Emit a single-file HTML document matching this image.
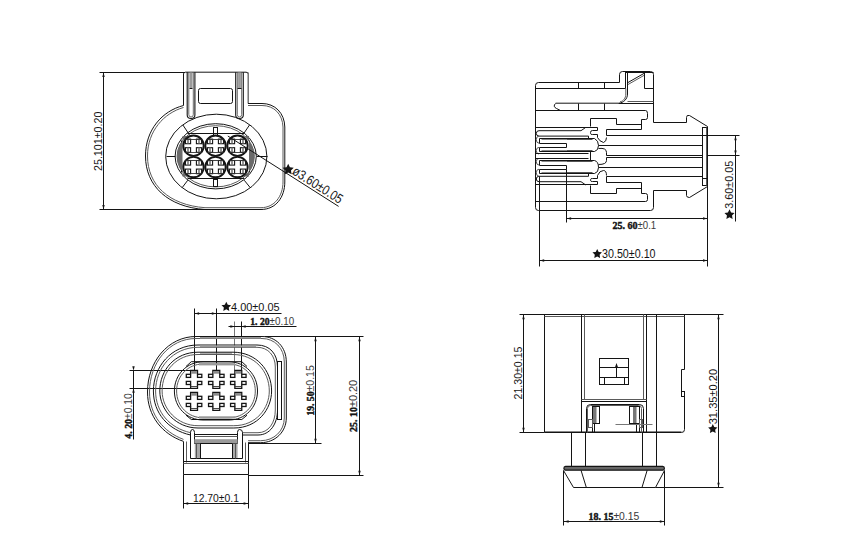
<!DOCTYPE html>
<html><head><meta charset="utf-8"><style>
html,body{margin:0;padding:0;background:#fff;width:850px;height:547px;overflow:hidden}
svg{display:block}
</style></head><body>
<svg width="850" height="547" viewBox="0 0 850 547">
<line x1="99.5" y1="72.5" x2="184.5" y2="72.5" stroke="#141414" stroke-width="1"/>
<line x1="99.5" y1="209.5" x2="205.5" y2="209.5" stroke="#141414" stroke-width="1"/>
<line x1="103.5" y1="72.5" x2="103.5" y2="209.5" stroke="#141414" stroke-width="1"/>
<path d="M103.5,72.5 L102.3,77.0 L104.7,77.0 Z" fill="#141414"/>
<path d="M103.5,209.5 L102.3,205.0 L104.7,205.0 Z" fill="#141414"/>
<g transform="translate(102,171) rotate(-90) scale(0.9465,1)"><text x="0" y="0" font-family="Liberation Sans" font-size="11.3" font-weight="normal" text-anchor="start" fill="#141414">25.101±0.20</text></g>
<path d="M183.5,105.5 V74 Q183.5,72.2 185.5,72.2 H246 Q248.2,72.2 248.2,74 V103.5" stroke="#141414" stroke-width="1" fill="none"/>
<path d="M187.2,72.2 V115 Q187.2,118.5 191.05,118.5 Q194.9,118.5 194.9,115 V72.2" stroke="#141414" stroke-width="1.1" fill="none"/>
<path d="M188.79999999999998,72.2 V114.5 Q188.79999999999998,117 191.05,117 Q193.3,117 193.3,114.5 V72.2" stroke="#5a5a5a" stroke-width="0.9" fill="none"/>
<rect x="189.6" y="72.5" width="2.9000000000000172" height="15.5" fill="#9a9a9a"/>
<line x1="189.5" y1="88.5" x2="192.5" y2="88.5" stroke="#141414" stroke-width="1"/>
<path d="M235.7,72.2 V115 Q235.7,118.5 239.5,118.5 Q243.3,118.5 243.3,115 V72.2" stroke="#141414" stroke-width="1.1" fill="none"/>
<path d="M237.29999999999998,72.2 V114.5 Q237.29999999999998,117 239.5,117 Q241.70000000000002,117 241.70000000000002,114.5 V72.2" stroke="#5a5a5a" stroke-width="0.9" fill="none"/>
<rect x="238.1" y="72.5" width="2.800000000000023" height="15.5" fill="#9a9a9a"/>
<line x1="237.5" y1="88.5" x2="241.5" y2="88.5" stroke="#141414" stroke-width="1"/>
<line x1="248.5" y1="72.5" x2="248.5" y2="103.5" stroke="#777" stroke-width="1"/>
<rect x="198.5" y="88.5" width="34.0" height="15.0" rx="2" stroke="#141414" stroke-width="1" fill="none"/>
<path d="M183.5,105.5 C162,111 145.5,130 145.5,156 C145.5,186 168,207 205,209.5 L261,209.5 C276,209.5 284.8,197 284.8,182 L284.8,127 C284.5,113 275,103.5 262,103.5 L248,103.5" stroke="#141414" stroke-width="1" fill="none"/>
<path d="M183.5,107.5 C164,113 147.5,131 147.5,156 C147.5,185 169,205 205,207.7 L261,207.7 C274.5,207.7 283,196 283,182 L283,127 C282.5,114 274,105.5 262,105.5 L248,105.5" stroke="#5a5a5a" stroke-width="1" fill="none"/>
<ellipse cx="216.3" cy="156.5" rx="50.6" ry="42.3" stroke="#141414" stroke-width="1" fill="none"/>
<ellipse cx="215.7" cy="156.3" rx="40.6" ry="32.6" stroke="#141414" stroke-width="1" fill="none"/>
<ellipse cx="215.7" cy="156.3" rx="38.6" ry="30.6" stroke="#5a5a5a" stroke-width="1" fill="none"/>
<line x1="182.9" y1="125" x2="189.3" y2="134.6" stroke="#141414" stroke-width="1"/>
<line x1="249.5" y1="125" x2="243" y2="134.6" stroke="#141414" stroke-width="1"/>
<line x1="182.2" y1="187.6" x2="187.8" y2="180.2" stroke="#141414" stroke-width="1"/>
<line x1="250.2" y1="187.6" x2="244.2" y2="180.2" stroke="#141414" stroke-width="1"/>
<line x1="166.5" y1="156.5" x2="175.5" y2="156.5" stroke="#141414" stroke-width="1"/>
<line x1="256.5" y1="156.5" x2="267.5" y2="156.5" stroke="#141414" stroke-width="1"/>
<line x1="187.5" y1="133.5" x2="244.5" y2="133.5" stroke="#141414" stroke-width="1"/>
<line x1="187.5" y1="178.5" x2="244.5" y2="178.5" stroke="#141414" stroke-width="1"/>
<line x1="181.5" y1="140.5" x2="181.5" y2="172.5" stroke="#141414" stroke-width="1"/>
<line x1="249.5" y1="140.5" x2="249.5" y2="172.5" stroke="#141414" stroke-width="1"/>
<rect x="213.5" y="127.5" width="4.0" height="8.0" rx="0" stroke="#141414" stroke-width="1" fill="none"/>
<rect x="213.5" y="179.5" width="4.0" height="7.0" rx="0" stroke="#141414" stroke-width="1" fill="none"/>
<path d="M182.5,136 L186.82,136.00 L184.74,138.03 L182.98,140.06 L181.51,142.09 L180.29,144.12 L179.29,146.15 L178.48,148.18 L177.87,150.21 L177.44,152.24 L177.19,154.27 L177.10,156.30 L177.19,158.33 L177.44,160.36 L177.87,162.39 L178.48,164.42 L179.29,166.45 L180.29,168.48 L181.51,170.51 L182.98,172.54 L184.74,174.57 L186.82,176.60 L182.5,176.6 Z" fill="#6a6a6a" stroke="none"/>
<path d="M249,136 L244.58,136.00 L246.66,138.03 L248.42,140.06 L249.89,142.09 L251.11,144.12 L252.11,146.15 L252.92,148.18 L253.53,150.21 L253.96,152.24 L254.21,154.27 L254.30,156.30 L254.21,158.33 L253.96,160.36 L253.53,162.39 L252.92,164.42 L252.11,166.45 L251.11,168.48 L249.89,170.51 L248.42,172.54 L246.66,174.57 L244.58,176.60 L249,176.6 Z" fill="#6a6a6a" stroke="none"/>
<circle cx="193.5" cy="145.7" r="10.2" stroke="#141414" stroke-width="1.9" fill="none"/>
<rect x="185.4" y="139.1" width="5.2" height="4.6" rx="0" stroke="#141414" stroke-width="1.1" fill="none"/>
<line x1="187.5" y1="139.5" x2="187.5" y2="143.5" stroke="#777" stroke-width="0.8"/>
<line x1="188.5" y1="139.5" x2="188.5" y2="143.5" stroke="#777" stroke-width="0.8"/>
<rect x="185.4" y="147.7" width="5.2" height="4.6" rx="0" stroke="#141414" stroke-width="1.1" fill="none"/>
<line x1="187.5" y1="147.5" x2="187.5" y2="152.5" stroke="#777" stroke-width="0.8"/>
<line x1="188.5" y1="147.5" x2="188.5" y2="152.5" stroke="#777" stroke-width="0.8"/>
<rect x="196.4" y="139.1" width="5.2" height="4.6" rx="0" stroke="#141414" stroke-width="1.1" fill="none"/>
<line x1="198.5" y1="139.5" x2="198.5" y2="143.5" stroke="#777" stroke-width="0.8"/>
<line x1="199.5" y1="139.5" x2="199.5" y2="143.5" stroke="#777" stroke-width="0.8"/>
<rect x="196.4" y="147.7" width="5.2" height="4.6" rx="0" stroke="#141414" stroke-width="1.1" fill="none"/>
<line x1="198.5" y1="147.5" x2="198.5" y2="152.5" stroke="#777" stroke-width="0.8"/>
<line x1="199.5" y1="147.5" x2="199.5" y2="152.5" stroke="#777" stroke-width="0.8"/>
<line x1="185.5" y1="139.5" x2="201.5" y2="139.5" stroke="#333" stroke-width="0.9"/>
<line x1="185.5" y1="152.5" x2="201.5" y2="152.5" stroke="#333" stroke-width="0.9"/>
<circle cx="215.5" cy="145.7" r="10.2" stroke="#141414" stroke-width="1.9" fill="none"/>
<rect x="207.4" y="139.1" width="5.2" height="4.6" rx="0" stroke="#141414" stroke-width="1.1" fill="none"/>
<line x1="209.5" y1="139.5" x2="209.5" y2="143.5" stroke="#777" stroke-width="0.8"/>
<line x1="210.5" y1="139.5" x2="210.5" y2="143.5" stroke="#777" stroke-width="0.8"/>
<rect x="207.4" y="147.7" width="5.2" height="4.6" rx="0" stroke="#141414" stroke-width="1.1" fill="none"/>
<line x1="209.5" y1="147.5" x2="209.5" y2="152.5" stroke="#777" stroke-width="0.8"/>
<line x1="210.5" y1="147.5" x2="210.5" y2="152.5" stroke="#777" stroke-width="0.8"/>
<rect x="218.4" y="139.1" width="5.2" height="4.6" rx="0" stroke="#141414" stroke-width="1.1" fill="none"/>
<line x1="220.5" y1="139.5" x2="220.5" y2="143.5" stroke="#777" stroke-width="0.8"/>
<line x1="221.5" y1="139.5" x2="221.5" y2="143.5" stroke="#777" stroke-width="0.8"/>
<rect x="218.4" y="147.7" width="5.2" height="4.6" rx="0" stroke="#141414" stroke-width="1.1" fill="none"/>
<line x1="220.5" y1="147.5" x2="220.5" y2="152.5" stroke="#777" stroke-width="0.8"/>
<line x1="221.5" y1="147.5" x2="221.5" y2="152.5" stroke="#777" stroke-width="0.8"/>
<line x1="207.5" y1="139.5" x2="223.5" y2="139.5" stroke="#333" stroke-width="0.9"/>
<line x1="207.5" y1="152.5" x2="223.5" y2="152.5" stroke="#333" stroke-width="0.9"/>
<circle cx="237.5" cy="145.7" r="10.2" stroke="#141414" stroke-width="1.9" fill="none"/>
<rect x="229.4" y="139.1" width="5.2" height="4.6" rx="0" stroke="#141414" stroke-width="1.1" fill="none"/>
<line x1="231.5" y1="139.5" x2="231.5" y2="143.5" stroke="#777" stroke-width="0.8"/>
<line x1="232.5" y1="139.5" x2="232.5" y2="143.5" stroke="#777" stroke-width="0.8"/>
<rect x="229.4" y="147.7" width="5.2" height="4.6" rx="0" stroke="#141414" stroke-width="1.1" fill="none"/>
<line x1="231.5" y1="147.5" x2="231.5" y2="152.5" stroke="#777" stroke-width="0.8"/>
<line x1="232.5" y1="147.5" x2="232.5" y2="152.5" stroke="#777" stroke-width="0.8"/>
<rect x="240.4" y="139.1" width="5.2" height="4.6" rx="0" stroke="#141414" stroke-width="1.1" fill="none"/>
<line x1="242.5" y1="139.5" x2="242.5" y2="143.5" stroke="#777" stroke-width="0.8"/>
<line x1="243.5" y1="139.5" x2="243.5" y2="143.5" stroke="#777" stroke-width="0.8"/>
<rect x="240.4" y="147.7" width="5.2" height="4.6" rx="0" stroke="#141414" stroke-width="1.1" fill="none"/>
<line x1="242.5" y1="147.5" x2="242.5" y2="152.5" stroke="#777" stroke-width="0.8"/>
<line x1="243.5" y1="147.5" x2="243.5" y2="152.5" stroke="#777" stroke-width="0.8"/>
<line x1="229.5" y1="139.5" x2="245.5" y2="139.5" stroke="#333" stroke-width="0.9"/>
<line x1="229.5" y1="152.5" x2="245.5" y2="152.5" stroke="#333" stroke-width="0.9"/>
<circle cx="193.5" cy="167.1" r="10.2" stroke="#141414" stroke-width="1.9" fill="none"/>
<rect x="185.4" y="160.5" width="5.2" height="4.6" rx="0" stroke="#141414" stroke-width="1.1" fill="none"/>
<line x1="187.5" y1="160.5" x2="187.5" y2="165.5" stroke="#777" stroke-width="0.8"/>
<line x1="188.5" y1="160.5" x2="188.5" y2="165.5" stroke="#777" stroke-width="0.8"/>
<rect x="185.4" y="169.1" width="5.2" height="4.6" rx="0" stroke="#141414" stroke-width="1.1" fill="none"/>
<line x1="187.5" y1="169.5" x2="187.5" y2="173.5" stroke="#777" stroke-width="0.8"/>
<line x1="188.5" y1="169.5" x2="188.5" y2="173.5" stroke="#777" stroke-width="0.8"/>
<rect x="196.4" y="160.5" width="5.2" height="4.6" rx="0" stroke="#141414" stroke-width="1.1" fill="none"/>
<line x1="198.5" y1="160.5" x2="198.5" y2="165.5" stroke="#777" stroke-width="0.8"/>
<line x1="199.5" y1="160.5" x2="199.5" y2="165.5" stroke="#777" stroke-width="0.8"/>
<rect x="196.4" y="169.1" width="5.2" height="4.6" rx="0" stroke="#141414" stroke-width="1.1" fill="none"/>
<line x1="198.5" y1="169.5" x2="198.5" y2="173.5" stroke="#777" stroke-width="0.8"/>
<line x1="199.5" y1="169.5" x2="199.5" y2="173.5" stroke="#777" stroke-width="0.8"/>
<line x1="185.5" y1="160.5" x2="201.5" y2="160.5" stroke="#333" stroke-width="0.9"/>
<line x1="185.5" y1="173.5" x2="201.5" y2="173.5" stroke="#333" stroke-width="0.9"/>
<circle cx="215.5" cy="167.1" r="10.2" stroke="#141414" stroke-width="1.9" fill="none"/>
<rect x="207.4" y="160.5" width="5.2" height="4.6" rx="0" stroke="#141414" stroke-width="1.1" fill="none"/>
<line x1="209.5" y1="160.5" x2="209.5" y2="165.5" stroke="#777" stroke-width="0.8"/>
<line x1="210.5" y1="160.5" x2="210.5" y2="165.5" stroke="#777" stroke-width="0.8"/>
<rect x="207.4" y="169.1" width="5.2" height="4.6" rx="0" stroke="#141414" stroke-width="1.1" fill="none"/>
<line x1="209.5" y1="169.5" x2="209.5" y2="173.5" stroke="#777" stroke-width="0.8"/>
<line x1="210.5" y1="169.5" x2="210.5" y2="173.5" stroke="#777" stroke-width="0.8"/>
<rect x="218.4" y="160.5" width="5.2" height="4.6" rx="0" stroke="#141414" stroke-width="1.1" fill="none"/>
<line x1="220.5" y1="160.5" x2="220.5" y2="165.5" stroke="#777" stroke-width="0.8"/>
<line x1="221.5" y1="160.5" x2="221.5" y2="165.5" stroke="#777" stroke-width="0.8"/>
<rect x="218.4" y="169.1" width="5.2" height="4.6" rx="0" stroke="#141414" stroke-width="1.1" fill="none"/>
<line x1="220.5" y1="169.5" x2="220.5" y2="173.5" stroke="#777" stroke-width="0.8"/>
<line x1="221.5" y1="169.5" x2="221.5" y2="173.5" stroke="#777" stroke-width="0.8"/>
<line x1="207.5" y1="160.5" x2="223.5" y2="160.5" stroke="#333" stroke-width="0.9"/>
<line x1="207.5" y1="173.5" x2="223.5" y2="173.5" stroke="#333" stroke-width="0.9"/>
<circle cx="237.5" cy="167.1" r="10.2" stroke="#141414" stroke-width="1.9" fill="none"/>
<rect x="229.4" y="160.5" width="5.2" height="4.6" rx="0" stroke="#141414" stroke-width="1.1" fill="none"/>
<line x1="231.5" y1="160.5" x2="231.5" y2="165.5" stroke="#777" stroke-width="0.8"/>
<line x1="232.5" y1="160.5" x2="232.5" y2="165.5" stroke="#777" stroke-width="0.8"/>
<rect x="229.4" y="169.1" width="5.2" height="4.6" rx="0" stroke="#141414" stroke-width="1.1" fill="none"/>
<line x1="231.5" y1="169.5" x2="231.5" y2="173.5" stroke="#777" stroke-width="0.8"/>
<line x1="232.5" y1="169.5" x2="232.5" y2="173.5" stroke="#777" stroke-width="0.8"/>
<rect x="240.4" y="160.5" width="5.2" height="4.6" rx="0" stroke="#141414" stroke-width="1.1" fill="none"/>
<line x1="242.5" y1="160.5" x2="242.5" y2="165.5" stroke="#777" stroke-width="0.8"/>
<line x1="243.5" y1="160.5" x2="243.5" y2="165.5" stroke="#777" stroke-width="0.8"/>
<rect x="240.4" y="169.1" width="5.2" height="4.6" rx="0" stroke="#141414" stroke-width="1.1" fill="none"/>
<line x1="242.5" y1="169.5" x2="242.5" y2="173.5" stroke="#777" stroke-width="0.8"/>
<line x1="243.5" y1="169.5" x2="243.5" y2="173.5" stroke="#777" stroke-width="0.8"/>
<line x1="229.5" y1="160.5" x2="245.5" y2="160.5" stroke="#333" stroke-width="0.9"/>
<line x1="229.5" y1="173.5" x2="245.5" y2="173.5" stroke="#333" stroke-width="0.9"/>
<line x1="227.8" y1="136" x2="338.6" y2="206.4" stroke="#141414" stroke-width="1"/>
<polygon points="288.20,163.80 289.90,167.25 293.72,167.81 290.96,170.50 291.61,174.29 288.20,172.50 284.79,174.29 285.44,170.50 282.68,167.81 286.50,167.25" fill="#141414"/>
<g transform="translate(291.2,173.6) rotate(32.4) scale(0.8357,1)"><text x="0" y="0" font-family="Liberation Sans" font-size="13.5" font-weight="normal" text-anchor="start" fill="#141414">ø3.60±0.05</text></g>
<path d="M535.5,85.5 Q535.5,82.5 538.5,82.5 H619.5 V74.5 Q619.5,71.5 622.5,71.5 H650.5 Q653.5,71.5 653.5,74.5 V122.5 H686.5 V117.5 Q686.5,114.5 689.5,115.5 L707.5,126.5 V127.5" stroke="#141414" stroke-width="1" fill="none"/>
<path d="M535.5,85.5 V207.5 Q535.5,210.5 538.5,210.5 H650.5 Q653.5,210.5 653.5,207.5 V190.5 H686.5 V195.5 Q686.5,197.5 689.5,197.5 L707.5,186.5 V185.5" stroke="#141414" stroke-width="1" fill="none"/>
<rect x="702.5" y="127.5" width="5.0" height="58.0" rx="0" stroke="#141414" stroke-width="1" fill="none"/>
<line x1="706.5" y1="127.5" x2="706.5" y2="185.5" stroke="#5a5a5a" stroke-width="1"/>
<line x1="702.5" y1="135.5" x2="707.5" y2="135.5" stroke="#141414" stroke-width="1"/>
<line x1="702.5" y1="178.5" x2="707.5" y2="178.5" stroke="#141414" stroke-width="1"/>
<line x1="535.5" y1="88.5" x2="625.5" y2="88.5" stroke="#141414" stroke-width="1"/>
<line x1="578.5" y1="82.5" x2="578.5" y2="88.5" stroke="#141414" stroke-width="1"/>
<line x1="604.5" y1="82.5" x2="604.5" y2="88.5" stroke="#141414" stroke-width="1"/>
<path d="M555.6,103.2 H618.5 C623.5,103 627.5,99 627.5,94 V73" stroke="#141414" stroke-width="1" fill="none"/>
<path d="M620,101.8 C623.5,101.3 625.8,98 625.8,94 V88.5" stroke="#5a5a5a" stroke-width="1" fill="none"/>
<path d="M555.5,103.5 Q552.5,106.5 556.5,108.5 L560.5,110.5" stroke="#141414" stroke-width="1" fill="none"/>
<line x1="578.5" y1="103.5" x2="578.5" y2="110.5" stroke="#141414" stroke-width="1"/>
<line x1="604.5" y1="103.5" x2="604.5" y2="110.5" stroke="#141414" stroke-width="1"/>
<line x1="625.5" y1="71.5" x2="625.5" y2="88.5" stroke="#141414" stroke-width="1"/>
<line x1="625.5" y1="72.5" x2="653.5" y2="72.5" stroke="#141414" stroke-width="1"/>
<path d="M628,82.5 L644,73.4" stroke="#141414" stroke-width="1" fill="none"/>
<path d="M628,84.5 L644,75.4" stroke="#5a5a5a" stroke-width="1" fill="none"/>
<path d="M644.5,72.5 V88.5 H653.5" stroke="#141414" stroke-width="1" fill="none"/>
<line x1="627.5" y1="101.5" x2="653.5" y2="101.5" stroke="#5a5a5a" stroke-width="1"/>
<line x1="618.5" y1="103.5" x2="653.5" y2="103.5" stroke="#141414" stroke-width="1"/>
<path d="M535.5,110.5 H645.5 Q647.5,110.5 647.5,113.5 V117.5 Q647.5,119.5 645.5,119.5 H641.5 V129.5 H606.5 V135.5" stroke="#141414" stroke-width="1" fill="none"/>
<path d="M590.5,126.5 V118.5 H616.5 V124.5 H641.5" stroke="#141414" stroke-width="1" fill="none"/>
<path d="M535.5,127.5 H597.5 V130.5 H592.5 Q590.5,130.5 590.5,132.5 V133.5 Q590.5,134.5 592.5,134.5 H597.5 V137.5 Q599.5,141.5 603.5,142.5 Q606.5,141.5 606.5,137.5" stroke="#141414" stroke-width="1" fill="none"/>
<path d="M585.6,127.5 L581,130.7 H539 Q536.3,130.7 536.3,133.4 Q536.3,136.1 539,136.1 H588.5 V138.8" stroke="#141414" stroke-width="1" fill="none"/>
<path d="M566.5,143.5 H539.5 V138.5 H594.5 Q598.5,140.5 598.5,145.5 Q598.5,150.5 594.5,151.5 H539.5 V147.5 H566.5 Z" stroke="#141414" stroke-width="1" fill="none"/>
<path d="M539,136.1 Q536.3,136.1 536.3,139.6 Q536.3,143.2 539,143.2" stroke="#5a5a5a" stroke-width="1" fill="none"/>
<path d="M539,147.4 Q536.3,147.4 536.3,150.7 Q536.3,154 539,154" stroke="#5a5a5a" stroke-width="1" fill="none"/>
<line x1="535.5" y1="153.5" x2="588.5" y2="153.5" stroke="#141414" stroke-width="1"/>
<line x1="541.5" y1="139.5" x2="566.5" y2="139.5" stroke="#888" stroke-width="1"/>
<line x1="541.5" y1="150.5" x2="566.5" y2="150.5" stroke="#888" stroke-width="1"/>
<line x1="566.5" y1="139.5" x2="592.5" y2="139.5" stroke="#555" stroke-width="1"/>
<line x1="566.5" y1="150.5" x2="592.5" y2="150.5" stroke="#555" stroke-width="1"/>
<line x1="598.5" y1="145.5" x2="702.5" y2="145.5" stroke="#141414" stroke-width="1"/>
<line x1="606.5" y1="135.5" x2="702.5" y2="135.5" stroke="#141414" stroke-width="1"/>
<path d="M598.5,148.5 Q606.5,147.5 606.5,152.5 V155.5 H702.5" stroke="#141414" stroke-width="1" fill="none"/>
<path d="M535.5,201.5 H645.5 Q647.5,201.5 647.5,199.5 V195.5 Q647.5,193.5 645.5,193.5 H641.5 V182.5 H606.5 V176.5" stroke="#141414" stroke-width="1" fill="none"/>
<path d="M590.5,185.5 V193.5 H616.5 V188.5 H641.5" stroke="#141414" stroke-width="1" fill="none"/>
<path d="M535.5,184.5 H597.5 V181.5 H592.5 Q590.5,181.5 590.5,180.5 V179.5 Q590.5,178.5 592.5,178.5 H597.5 V175.5 Q599.5,170.5 603.5,170.5 Q606.5,170.5 606.5,175.5" stroke="#141414" stroke-width="1" fill="none"/>
<path d="M585.6,184.9 L581,181.7 H539 Q536.3,181.7 536.3,179.0 Q536.3,176.3 539,176.3 H588.5 V173.6" stroke="#141414" stroke-width="1" fill="none"/>
<path d="M566.5,169.5 H539.5 V173.5 H594.5 Q598.5,172.5 598.5,167.5 Q598.5,161.5 594.5,160.5 H539.5 V165.5 H566.5 Z" stroke="#141414" stroke-width="1" fill="none"/>
<path d="M539,176.3 Q536.3,176.3 536.3,172.8 Q536.3,169.2 539,169.2" stroke="#5a5a5a" stroke-width="1" fill="none"/>
<path d="M539,165.0 Q536.3,165.0 536.3,161.7 Q536.3,158.4 539,158.4" stroke="#5a5a5a" stroke-width="1" fill="none"/>
<line x1="535.5" y1="158.5" x2="588.5" y2="158.5" stroke="#141414" stroke-width="1"/>
<line x1="541.5" y1="172.5" x2="566.5" y2="172.5" stroke="#888" stroke-width="1"/>
<line x1="541.5" y1="161.5" x2="566.5" y2="161.5" stroke="#888" stroke-width="1"/>
<line x1="566.5" y1="172.5" x2="592.5" y2="172.5" stroke="#555" stroke-width="1"/>
<line x1="566.5" y1="161.5" x2="592.5" y2="161.5" stroke="#555" stroke-width="1"/>
<line x1="598.5" y1="167.5" x2="702.5" y2="167.5" stroke="#141414" stroke-width="1"/>
<line x1="606.5" y1="176.5" x2="702.5" y2="176.5" stroke="#141414" stroke-width="1"/>
<path d="M598.5,164.5 Q606.5,164.5 606.5,160.5 V157.5 H702.5" stroke="#141414" stroke-width="1" fill="none"/>
<line x1="590.5" y1="151.5" x2="590.5" y2="160.5" stroke="#141414" stroke-width="1"/>
<line x1="707.5" y1="185.5" x2="707.5" y2="266.5" stroke="#141414" stroke-width="1"/>
<line x1="702.5" y1="135.5" x2="739.5" y2="135.5" stroke="#141414" stroke-width="1"/>
<line x1="707.5" y1="155.5" x2="739.5" y2="155.5" stroke="#141414" stroke-width="1"/>
<line x1="735.5" y1="135.5" x2="735.5" y2="221.5" stroke="#141414" stroke-width="1"/>
<path d="M735.5,135.8 L734.3,140.3 L736.7,140.3 Z" fill="#141414"/>
<path d="M735.5,155 L734.3,150.5 L736.7,150.5 Z" fill="#141414"/>
<g transform="translate(732.5,208.8) rotate(-90) scale(1.0293,1)"><text x="0" y="0" font-family="Liberation Sans" font-size="10.5" font-weight="normal" text-anchor="start" fill="#141414">3.60±0.05</text></g>
<polygon points="729.50,209.30 731.06,212.46 734.54,212.96 732.02,215.42 732.62,218.89 729.50,217.25 726.38,218.89 726.98,215.42 724.46,212.96 727.94,212.46" fill="#141414"/>
<line x1="539.5" y1="176.5" x2="539.5" y2="266.5" stroke="#141414" stroke-width="1"/>
<line x1="566.5" y1="169.5" x2="566.5" y2="222.5" stroke="#141414" stroke-width="1"/>
<line x1="566.5" y1="218.5" x2="707.5" y2="218.5" stroke="#141414" stroke-width="1"/>
<path d="M566.6,218.5 L571.1,217.3 L571.1,219.7 Z" fill="#141414"/>
<path d="M707.5,218.5 L703.0,217.3 L703.0,219.7 Z" fill="#141414"/>
<line x1="539.5" y1="260.5" x2="707.5" y2="260.5" stroke="#141414" stroke-width="1"/>
<path d="M539.7,260.5 L544.2,259.3 L544.2,261.7 Z" fill="#141414"/>
<path d="M707.5,260.5 L703.0,259.3 L703.0,261.7 Z" fill="#141414"/>
<g transform="translate(612.4,228.8) rotate(0) scale(0.9127,1)"><text x="0" y="0" font-family="Liberation Serif" font-size="11" font-weight="bold" text-anchor="start" fill="#141414" stroke="#141414" stroke-width="0.45">25. 60</text></g>
<g transform="translate(637.5,228.8) rotate(0) scale(0.9185,1)"><text x="0" y="0" font-family="Liberation Sans" font-size="10.5" font-weight="normal" text-anchor="start" fill="#3a3a3a">±0.1</text></g>
<polygon points="597.20,248.90 598.67,251.88 601.96,252.35 599.58,254.67 600.14,257.95 597.20,256.40 594.26,257.95 594.82,254.67 592.44,252.35 595.73,251.88" fill="#141414"/>
<g transform="translate(602,257.9) rotate(0) scale(0.8938,1)"><text x="0" y="0" font-family="Liberation Sans" font-size="12" font-weight="normal" text-anchor="start" fill="#141414">30.50±0.10</text></g>
<line x1="194.5" y1="308.5" x2="194.5" y2="370.5" stroke="#141414" stroke-width="1"/>
<line x1="216.5" y1="308.5" x2="216.5" y2="370.5" stroke="#141414" stroke-width="1"/>
<line x1="194.5" y1="313.5" x2="281.5" y2="313.5" stroke="#141414" stroke-width="1"/>
<path d="M194.6,313.5 L199.1,312.3 L199.1,314.7 Z" fill="#141414"/>
<path d="M216.3,313.5 L211.8,312.3 L211.8,314.7 Z" fill="#141414"/>
<polygon points="226.30,301.70 227.80,304.74 231.15,305.22 228.73,307.59 229.30,310.93 226.30,309.35 223.30,310.93 223.87,307.59 221.45,305.22 224.80,304.74" fill="#141414"/>
<g transform="translate(231,310.8) rotate(0) scale(1.0443,1)"><text x="0" y="0" font-family="Liberation Sans" font-size="10.5" font-weight="normal" text-anchor="start" fill="#141414">4.00±0.05</text></g>
<line x1="234.5" y1="321.5" x2="234.5" y2="370.5" stroke="#777" stroke-width="1"/>
<line x1="241.5" y1="321.5" x2="241.5" y2="370.5" stroke="#141414" stroke-width="1"/>
<line x1="228.5" y1="326.5" x2="296.5" y2="326.5" stroke="#141414" stroke-width="1"/>
<path d="M234.9,326.5 L230.4,325.3 L230.4,327.7 Z" fill="#141414"/>
<path d="M241.2,326.5 L245.7,325.3 L245.7,327.7 Z" fill="#141414"/>
<g transform="translate(250.3,324.6) rotate(0) scale(0.8773,1)"><text x="0" y="0" font-family="Liberation Serif" font-size="11" font-weight="bold" text-anchor="start" fill="#141414" stroke="#141414" stroke-width="0.45">1. 20</text></g>
<g transform="translate(269.6,324.6) rotate(0) scale(0.9390,1)"><text x="0" y="0" font-family="Liberation Sans" font-size="10.5" font-weight="normal" text-anchor="start" fill="#3a3a3a">±0.10</text></g>
<line x1="264.5" y1="336.5" x2="363.5" y2="336.5" stroke="#141414" stroke-width="1"/>
<line x1="248.5" y1="475.5" x2="363.5" y2="475.5" stroke="#141414" stroke-width="1"/>
<line x1="248.5" y1="443.5" x2="321.5" y2="443.5" stroke="#141414" stroke-width="1"/>
<line x1="315.5" y1="336.5" x2="315.5" y2="443.5" stroke="#141414" stroke-width="1"/>
<path d="M315.5,336.8 L314.3,341.3 L316.7,341.3 Z" fill="#141414"/>
<path d="M315.5,443.3 L314.3,438.8 L316.7,438.8 Z" fill="#141414"/>
<line x1="359.5" y1="336.5" x2="359.5" y2="475.5" stroke="#141414" stroke-width="1"/>
<path d="M359.5,336.8 L358.3,341.3 L360.7,341.3 Z" fill="#141414"/>
<path d="M359.5,475.2 L358.3,470.7 L360.7,470.7 Z" fill="#141414"/>
<g transform="translate(314.4,415.6) rotate(-90) scale(0.8764,1)"><text x="0" y="0" font-family="Liberation Serif" font-size="11" font-weight="bold" text-anchor="start" fill="#141414" stroke="#141414" stroke-width="0.45">19. 50</text></g>
<g transform="translate(314.4,391.5) rotate(-90) scale(1.0077,1)"><text x="0" y="0" font-family="Liberation Sans" font-size="10.5" font-weight="normal" text-anchor="start" fill="#3a3a3a">±0.15</text></g>
<g transform="translate(357.1,431.9) rotate(-90) scale(0.9055,1)"><text x="0" y="0" font-family="Liberation Serif" font-size="11" font-weight="bold" text-anchor="start" fill="#141414" stroke="#141414" stroke-width="0.45">25. 10</text></g>
<g transform="translate(357.1,407) rotate(-90) scale(1.0382,1)"><text x="0" y="0" font-family="Liberation Sans" font-size="10.5" font-weight="normal" text-anchor="start" fill="#3a3a3a">±0.20</text></g>
<line x1="129.5" y1="370.5" x2="190.5" y2="370.5" stroke="#141414" stroke-width="1"/>
<line x1="129.5" y1="388.5" x2="190.5" y2="388.5" stroke="#141414" stroke-width="1"/>
<line x1="133.5" y1="370.5" x2="133.5" y2="439.5" stroke="#141414" stroke-width="1"/>
<path d="M133.5,370.8 L132.3,366.3 L134.7,366.3 Z" fill="#141414"/>
<path d="M133.5,388.3 L132.3,392.8 L134.7,392.8 Z" fill="#141414"/>
<g transform="translate(131.8,438.7) rotate(-90) scale(0.8955,1)"><text x="0" y="0" font-family="Liberation Serif" font-size="11" font-weight="bold" text-anchor="start" fill="#141414" stroke="#141414" stroke-width="0.45">4. 20</text></g>
<g transform="translate(131.8,419) rotate(-90) scale(0.9848,1)"><text x="0" y="0" font-family="Liberation Sans" font-size="10.5" font-weight="normal" text-anchor="start" fill="#3a3a3a">±0.10</text></g>
<line x1="183.5" y1="474.5" x2="183.5" y2="508.5" stroke="#141414" stroke-width="1"/>
<line x1="248.5" y1="474.5" x2="248.5" y2="508.5" stroke="#141414" stroke-width="1"/>
<line x1="183.5" y1="503.5" x2="248.5" y2="503.5" stroke="#141414" stroke-width="1"/>
<path d="M183.7,503.5 L188.2,502.3 L188.2,504.7 Z" fill="#141414"/>
<path d="M248.1,503.5 L243.6,502.3 L243.6,504.7 Z" fill="#141414"/>
<g transform="translate(193,501.5) rotate(0) scale(0.9864,1)"><text x="0" y="0" font-family="Liberation Sans" font-size="10.5" font-weight="normal" text-anchor="start" fill="#141414">12.70±0.1</text></g>
<path d="M196,336.5 H262 C276,336.5 286.3,347 286.3,362 V418 C286.3,432 275,442.7 260.7,442.7 H248.1" stroke="#141414" stroke-width="1" fill="none"/>
<path d="M196,338.5 H262 C274.5,338.5 284.3,348 284.3,362 V418 C284.3,431 274,440.7 260.7,440.7 H248.1" stroke="#5a5a5a" stroke-width="1" fill="none"/>
<path d="M196,336.5 C168,336.5 147.5,362 147.5,392 C147.5,416 162,434 183.5,441.4" stroke="#141414" stroke-width="1" fill="none"/>
<path d="M196,338.5 C169,338.5 149.5,363 149.5,392 C149.5,415 163.5,432 183.5,439.4" stroke="#5a5a5a" stroke-width="1" fill="none"/>
<path d="M198,345 H257 C270,345 277.5,354 277.5,367 V410 C277.5,424 270,435 258,435 H242.4" stroke="#141414" stroke-width="1" fill="none"/>
<path d="M198,347.3 H257 C268.5,347.3 275.3,356 275.3,367 V410 C275.3,423 268.5,432.7 258,432.7 H242.4" stroke="#5a5a5a" stroke-width="1" fill="none"/>
<path d="M198,345 C171,345 153.4,367 153.4,391 C153.4,413 168,430 190.6,435" stroke="#141414" stroke-width="1" fill="none"/>
<path d="M198,347.3 C173,347.3 155.6,368 155.6,391 C155.6,412 169.5,428 190.6,432.7" stroke="#5a5a5a" stroke-width="1" fill="none"/>
<rect x="277.5" y="361.5" width="4.0" height="58.0" rx="0" stroke="#141414" stroke-width="1" fill="none"/>
<rect x="200" y="337" width="61" height="1.6" fill="#9a9a9a"/>
<rect x="200" y="345.4" width="56" height="1.6" fill="#9a9a9a"/>
<rect x="200" y="352.6" width="32" height="1.2" fill="#9a9a9a"/>
<path d="M198,352.2 H233 C256,352.2 271.6,370 271.6,391 C271.6,409 258,428 233.8,428 H198 C176,428 159.8,410 159.8,391 C159.8,370 175,352.2 198,352.2 Z" stroke="#141414" stroke-width="1" fill="none"/>
<path d="M198,354.5 H233 C254.5,354.5 269.3,371 269.3,391 C269.3,408 256.5,425.7 233.8,425.7 H198 C177.5,425.7 162.1,409 162.1,391 C162.1,371 176.5,354.5 198,354.5 Z" stroke="#5a5a5a" stroke-width="1" fill="none"/>
<path d="M203,361.8 H229 C245,361.8 257.5,374.5 257.5,391 C257.5,407.5 245,420 229,420 H203 C187,420 174.4,407.5 174.4,391 C174.4,374.5 187,361.8 203,361.8 Z" stroke="#141414" stroke-width="1" fill="none"/>
<path d="M203,364 H229 C243.8,364 255.3,375.7 255.3,391 C255.3,406.3 243.8,417.8 229,417.8 H203 C188.2,417.8 176.6,406.3 176.6,391 C176.6,375.7 188.2,364 203,364 Z" stroke="#5a5a5a" stroke-width="1" fill="none"/>
<path d="M186,366.5 L191.3,361.7 H241.8 L247,366.5" stroke="#141414" stroke-width="1" fill="none"/>
<rect x="199" y="363.2" width="36" height="2.2" fill="#999"/>
<path d="M186,415.2 L191.3,419.5 H241.8 L247,415.2" stroke="#141414" stroke-width="1" fill="none"/>
<rect x="199" y="416.3" width="36" height="2.2" fill="#999"/>
<path d="M190.60,374.30 V370.50 H197.50 V374.30" stroke="#141414" stroke-width="1.3" fill="none"/>
<path d="M190.60,384.50 V388.30 H197.50 V384.50" stroke="#141414" stroke-width="1.3" fill="none"/>
<rect x="186.3" y="374.29999999999995" width="4.3" height="3.0999999999999996" rx="0" stroke="#141414" stroke-width="1.3" fill="none"/>
<rect x="197.5" y="374.29999999999995" width="4.3" height="3.0999999999999996" rx="0" stroke="#141414" stroke-width="1.3" fill="none"/>
<rect x="186.3" y="381.4" width="4.3" height="3.0999999999999996" rx="0" stroke="#141414" stroke-width="1.3" fill="none"/>
<rect x="197.5" y="381.4" width="4.3" height="3.0999999999999996" rx="0" stroke="#141414" stroke-width="1.3" fill="none"/>
<rect x="191.20000000000002" y="371.1" width="5.7" height="2.6" fill="#8a8a8a"/>
<line x1="190.5" y1="386.5" x2="197.5" y2="386.5" stroke="#333" stroke-width="0.9"/>
<path d="M212.85,374.30 V370.50 H219.75 V374.30" stroke="#141414" stroke-width="1.3" fill="none"/>
<path d="M212.85,384.50 V388.30 H219.75 V384.50" stroke="#141414" stroke-width="1.3" fill="none"/>
<rect x="208.55" y="374.29999999999995" width="4.3" height="3.0999999999999996" rx="0" stroke="#141414" stroke-width="1.3" fill="none"/>
<rect x="219.75" y="374.29999999999995" width="4.3" height="3.0999999999999996" rx="0" stroke="#141414" stroke-width="1.3" fill="none"/>
<rect x="208.55" y="381.4" width="4.3" height="3.0999999999999996" rx="0" stroke="#141414" stroke-width="1.3" fill="none"/>
<rect x="219.75" y="381.4" width="4.3" height="3.0999999999999996" rx="0" stroke="#141414" stroke-width="1.3" fill="none"/>
<rect x="213.45000000000002" y="371.1" width="5.7" height="2.6" fill="#8a8a8a"/>
<line x1="212.5" y1="386.5" x2="219.5" y2="386.5" stroke="#333" stroke-width="0.9"/>
<path d="M234.85,374.30 V370.50 H241.75 V374.30" stroke="#141414" stroke-width="1.3" fill="none"/>
<path d="M234.85,384.50 V388.30 H241.75 V384.50" stroke="#141414" stroke-width="1.3" fill="none"/>
<rect x="230.55" y="374.29999999999995" width="4.3" height="3.0999999999999996" rx="0" stroke="#141414" stroke-width="1.3" fill="none"/>
<rect x="241.75" y="374.29999999999995" width="4.3" height="3.0999999999999996" rx="0" stroke="#141414" stroke-width="1.3" fill="none"/>
<rect x="230.55" y="381.4" width="4.3" height="3.0999999999999996" rx="0" stroke="#141414" stroke-width="1.3" fill="none"/>
<rect x="241.75" y="381.4" width="4.3" height="3.0999999999999996" rx="0" stroke="#141414" stroke-width="1.3" fill="none"/>
<rect x="235.45000000000002" y="371.1" width="5.7" height="2.6" fill="#8a8a8a"/>
<line x1="234.5" y1="386.5" x2="241.5" y2="386.5" stroke="#333" stroke-width="0.9"/>
<path d="M190.60,396.30 V392.50 H197.50 V396.30" stroke="#141414" stroke-width="1.3" fill="none"/>
<path d="M190.60,406.50 V410.30 H197.50 V406.50" stroke="#141414" stroke-width="1.3" fill="none"/>
<rect x="186.3" y="396.29999999999995" width="4.3" height="3.0999999999999996" rx="0" stroke="#141414" stroke-width="1.3" fill="none"/>
<rect x="197.5" y="396.29999999999995" width="4.3" height="3.0999999999999996" rx="0" stroke="#141414" stroke-width="1.3" fill="none"/>
<rect x="186.3" y="403.4" width="4.3" height="3.0999999999999996" rx="0" stroke="#141414" stroke-width="1.3" fill="none"/>
<rect x="197.5" y="403.4" width="4.3" height="3.0999999999999996" rx="0" stroke="#141414" stroke-width="1.3" fill="none"/>
<rect x="191.20000000000002" y="393.1" width="5.7" height="2.6" fill="#8a8a8a"/>
<line x1="190.5" y1="408.5" x2="197.5" y2="408.5" stroke="#333" stroke-width="0.9"/>
<path d="M212.85,396.30 V392.50 H219.75 V396.30" stroke="#141414" stroke-width="1.3" fill="none"/>
<path d="M212.85,406.50 V410.30 H219.75 V406.50" stroke="#141414" stroke-width="1.3" fill="none"/>
<rect x="208.55" y="396.29999999999995" width="4.3" height="3.0999999999999996" rx="0" stroke="#141414" stroke-width="1.3" fill="none"/>
<rect x="219.75" y="396.29999999999995" width="4.3" height="3.0999999999999996" rx="0" stroke="#141414" stroke-width="1.3" fill="none"/>
<rect x="208.55" y="403.4" width="4.3" height="3.0999999999999996" rx="0" stroke="#141414" stroke-width="1.3" fill="none"/>
<rect x="219.75" y="403.4" width="4.3" height="3.0999999999999996" rx="0" stroke="#141414" stroke-width="1.3" fill="none"/>
<rect x="213.45000000000002" y="393.1" width="5.7" height="2.6" fill="#8a8a8a"/>
<line x1="212.5" y1="408.5" x2="219.5" y2="408.5" stroke="#333" stroke-width="0.9"/>
<path d="M234.85,396.30 V392.50 H241.75 V396.30" stroke="#141414" stroke-width="1.3" fill="none"/>
<path d="M234.85,406.50 V410.30 H241.75 V406.50" stroke="#141414" stroke-width="1.3" fill="none"/>
<rect x="230.55" y="396.29999999999995" width="4.3" height="3.0999999999999996" rx="0" stroke="#141414" stroke-width="1.3" fill="none"/>
<rect x="241.75" y="396.29999999999995" width="4.3" height="3.0999999999999996" rx="0" stroke="#141414" stroke-width="1.3" fill="none"/>
<rect x="230.55" y="403.4" width="4.3" height="3.0999999999999996" rx="0" stroke="#141414" stroke-width="1.3" fill="none"/>
<rect x="241.75" y="403.4" width="4.3" height="3.0999999999999996" rx="0" stroke="#141414" stroke-width="1.3" fill="none"/>
<rect x="235.45000000000002" y="393.1" width="5.7" height="2.6" fill="#8a8a8a"/>
<line x1="234.5" y1="408.5" x2="241.5" y2="408.5" stroke="#333" stroke-width="0.9"/>
<path d="M183.5,441.5 V474.5 H248.5 V442.5" stroke="#141414" stroke-width="1" fill="none"/>
<line x1="186.5" y1="441.5" x2="186.5" y2="462.5" stroke="#5a5a5a" stroke-width="1"/>
<line x1="245.5" y1="442.5" x2="245.5" y2="462.5" stroke="#5a5a5a" stroke-width="1"/>
<line x1="183.5" y1="461.5" x2="248.5" y2="461.5" stroke="#141414" stroke-width="1"/>
<line x1="183.5" y1="463.5" x2="248.5" y2="463.5" stroke="#5a5a5a" stroke-width="1"/>
<path d="M190.5,458.5 V432.5 Q190.5,429.5 192.5,429.5 Q194.5,429.5 194.5,432.5 V443.5" stroke="#141414" stroke-width="1" fill="none"/>
<path d="M237.5,443.5 V432.5 Q237.5,429.5 239.5,429.5 Q242.5,429.5 242.5,432.5 V458.5 H190.5" stroke="#141414" stroke-width="1" fill="none"/>
<line x1="194.5" y1="434.5" x2="237.5" y2="434.5" stroke="#141414" stroke-width="1"/>
<line x1="194.5" y1="436.5" x2="237.5" y2="436.5" stroke="#5a5a5a" stroke-width="1"/>
<rect x="194.3" y="439.2" width="43.3" height="4.4" fill="#9a9a9a"/>
<line x1="194.5" y1="443.5" x2="237.5" y2="443.5" stroke="#141414" stroke-width="1"/>
<rect x="194.8" y="443.6" width="5.5" height="14.3" fill="#a8a8a8"/>
<rect x="232.1" y="443.6" width="5.5" height="14.3" fill="#a8a8a8"/>
<line x1="200.5" y1="443.5" x2="200.5" y2="458.5" stroke="#141414" stroke-width="1"/>
<line x1="232.5" y1="443.5" x2="232.5" y2="458.5" stroke="#141414" stroke-width="1"/>
<line x1="196.5" y1="443.5" x2="196.5" y2="458.5" stroke="#555" stroke-width="1"/>
<line x1="235.5" y1="443.5" x2="235.5" y2="458.5" stroke="#555" stroke-width="1"/>
<line x1="519.5" y1="314.5" x2="723.5" y2="314.5" stroke="#141414" stroke-width="1"/>
<line x1="523.5" y1="314.5" x2="523.5" y2="432.5" stroke="#141414" stroke-width="1"/>
<path d="M523.5,314.8 L522.3,319.3 L524.7,319.3 Z" fill="#141414"/>
<path d="M523.5,432.2 L522.3,427.7 L524.7,427.7 Z" fill="#141414"/>
<g transform="translate(522,399.4) rotate(-90) scale(1.0081,1)"><text x="0" y="0" font-family="Liberation Sans" font-size="10.5" font-weight="normal" text-anchor="start" fill="#141414">21.30±0.15</text></g>
<line x1="519.5" y1="432.5" x2="544.5" y2="432.5" stroke="#141414" stroke-width="1"/>
<line x1="544.5" y1="431.5" x2="681.5" y2="431.5" stroke="#888" stroke-width="1"/>
<path d="M544.5,314.5 V432.5 H681.5 Q684.5,432.5 684.5,429.5 V396.5 H681.5 V369.5 H684.5 V314.5" stroke="#141414" stroke-width="1" fill="none"/>
<rect x="681.5" y="391.5" width="3.0" height="5.0" rx="0" stroke="#141414" stroke-width="1" fill="none"/>
<line x1="544.5" y1="316.5" x2="684.5" y2="316.5" stroke="#5a5a5a" stroke-width="1"/>
<line x1="581.5" y1="314.5" x2="581.5" y2="432.5" stroke="#141414" stroke-width="1"/>
<line x1="584.5" y1="314.5" x2="584.5" y2="399.5" stroke="#5a5a5a" stroke-width="1"/>
<line x1="643.5" y1="314.5" x2="643.5" y2="399.5" stroke="#5a5a5a" stroke-width="1"/>
<line x1="646.5" y1="314.5" x2="646.5" y2="432.5" stroke="#141414" stroke-width="1"/>
<line x1="656.5" y1="314.5" x2="656.5" y2="432.5" stroke="#141414" stroke-width="1"/>
<line x1="581.5" y1="399.5" x2="646.5" y2="399.5" stroke="#5a5a5a" stroke-width="1"/>
<line x1="581.5" y1="401.5" x2="646.5" y2="401.5" stroke="#141414" stroke-width="1"/>
<path d="M586.5,432.5 V408.5 Q586.5,404.5 590.5,404.5 H639.5 Q643.5,404.5 643.5,408.5 V432.5" stroke="#141414" stroke-width="1" fill="none"/>
<path d="M587.5,432.5 V408.5 Q587.5,405.5 590.5,405.5 H638.5 Q641.5,405.5 641.5,408.5 V432.5" stroke="#5a5a5a" stroke-width="1" fill="none"/>
<rect x="593" y="406.5" width="3.5" height="17" fill="#777"/>
<rect x="633" y="406.5" width="3.5" height="17" fill="#777"/>
<rect x="592.5" y="406.5" width="7.0" height="17.0" rx="0" stroke="#141414" stroke-width="1" fill="none"/>
<rect x="629.5" y="406.5" width="10.0" height="17.0" rx="0" stroke="#141414" stroke-width="1" fill="none"/>
<rect x="592.5" y="423.5" width="2.0" height="9.0" rx="0" stroke="#141414" stroke-width="1" fill="none"/>
<rect x="636.5" y="423.5" width="3.0" height="9.0" rx="0" stroke="#141414" stroke-width="1" fill="none"/>
<rect x="588.5" y="419.5" width="4.0" height="8.0" rx="0" stroke="#5a5a5a" stroke-width="1" fill="none"/>
<rect x="639.5" y="419.5" width="3.0" height="8.0" rx="0" stroke="#5a5a5a" stroke-width="1" fill="none"/>
<line x1="615.5" y1="424.5" x2="652.5" y2="424.5" stroke="#777" stroke-width="1"/>
<rect x="599.5" y="358.5" width="29.0" height="26.0" rx="0" stroke="#141414" stroke-width="1" fill="none"/>
<line x1="599.5" y1="367.5" x2="628.5" y2="367.5" stroke="#141414" stroke-width="1"/>
<line x1="599.5" y1="377.5" x2="628.5" y2="377.5" stroke="#141414" stroke-width="1"/>
<rect x="604.5" y="377.5" width="20.0" height="7.0" rx="0" stroke="#141414" stroke-width="1" fill="none"/>
<line x1="616.5" y1="366.5" x2="616.5" y2="377.5" stroke="#141414" stroke-width="1"/>
<path d="M616.5,363 L615.1,367 L617.9,367 Z" fill="#141414"/>
<line x1="571.5" y1="432.5" x2="571.5" y2="466.5" stroke="#141414" stroke-width="1"/>
<line x1="585.5" y1="432.5" x2="585.5" y2="466.5" stroke="#141414" stroke-width="1"/>
<line x1="642.5" y1="432.5" x2="642.5" y2="466.5" stroke="#141414" stroke-width="1"/>
<line x1="656.5" y1="432.5" x2="656.5" y2="466.5" stroke="#141414" stroke-width="1"/>
<path d="M565.5,466.4 H662.8 Q664.4,466.4 664.4,468.3 Q664.4,470.2 662.8,470.2 H565.5 Q563.9,470.2 563.9,468.3 Q563.9,466.4 565.5,466.4 Z" stroke="#141414" stroke-width="1.2" fill="#666"/>
<path d="M563.5,470.5 L573.5,487.5 H655.5 L664.5,470.5" stroke="#141414" stroke-width="1" fill="none"/>
<line x1="581" y1="470.2" x2="586.3" y2="487.4" stroke="#141414" stroke-width="1"/>
<line x1="647.2" y1="470.2" x2="642" y2="487.4" stroke="#141414" stroke-width="1"/>
<line x1="655.5" y1="487.5" x2="723.5" y2="487.5" stroke="#141414" stroke-width="1"/>
<line x1="718.5" y1="314.5" x2="718.5" y2="487.5" stroke="#141414" stroke-width="1"/>
<path d="M718.5,314.8 L717.3,319.3 L719.7,319.3 Z" fill="#141414"/>
<path d="M718.5,487.2 L717.3,482.7 L719.7,482.7 Z" fill="#141414"/>
<g transform="translate(716.8,424.3) rotate(-90) scale(1.0096,1)"><text x="0" y="0" font-family="Liberation Sans" font-size="11" font-weight="normal" text-anchor="start" fill="#141414">31.35±0.20</text></g>
<polygon points="712.80,424.10 714.24,427.02 717.46,427.49 715.13,429.76 715.68,432.96 712.80,431.45 709.92,432.96 710.47,429.76 708.14,427.49 711.36,427.02" fill="#141414"/>
<line x1="563.5" y1="470.5" x2="563.5" y2="525.5" stroke="#141414" stroke-width="1"/>
<line x1="664.5" y1="470.5" x2="664.5" y2="525.5" stroke="#141414" stroke-width="1"/>
<line x1="563.5" y1="521.5" x2="664.5" y2="521.5" stroke="#141414" stroke-width="1"/>
<path d="M564.1,521.5 L568.6,520.3 L568.6,522.7 Z" fill="#141414"/>
<path d="M664.4,521.5 L659.9,520.3 L659.9,522.7 Z" fill="#141414"/>
<g transform="translate(588.6,519.8) rotate(0) scale(0.9018,1)"><text x="0" y="0" font-family="Liberation Serif" font-size="11" font-weight="bold" text-anchor="start" fill="#141414" stroke="#141414" stroke-width="0.45">18. 15</text></g>
<g transform="translate(613.4,519.8) rotate(0) scale(0.9886,1)"><text x="0" y="0" font-family="Liberation Sans" font-size="10.5" font-weight="normal" text-anchor="start" fill="#3a3a3a">±0.15</text></g>
</svg></body></html>
